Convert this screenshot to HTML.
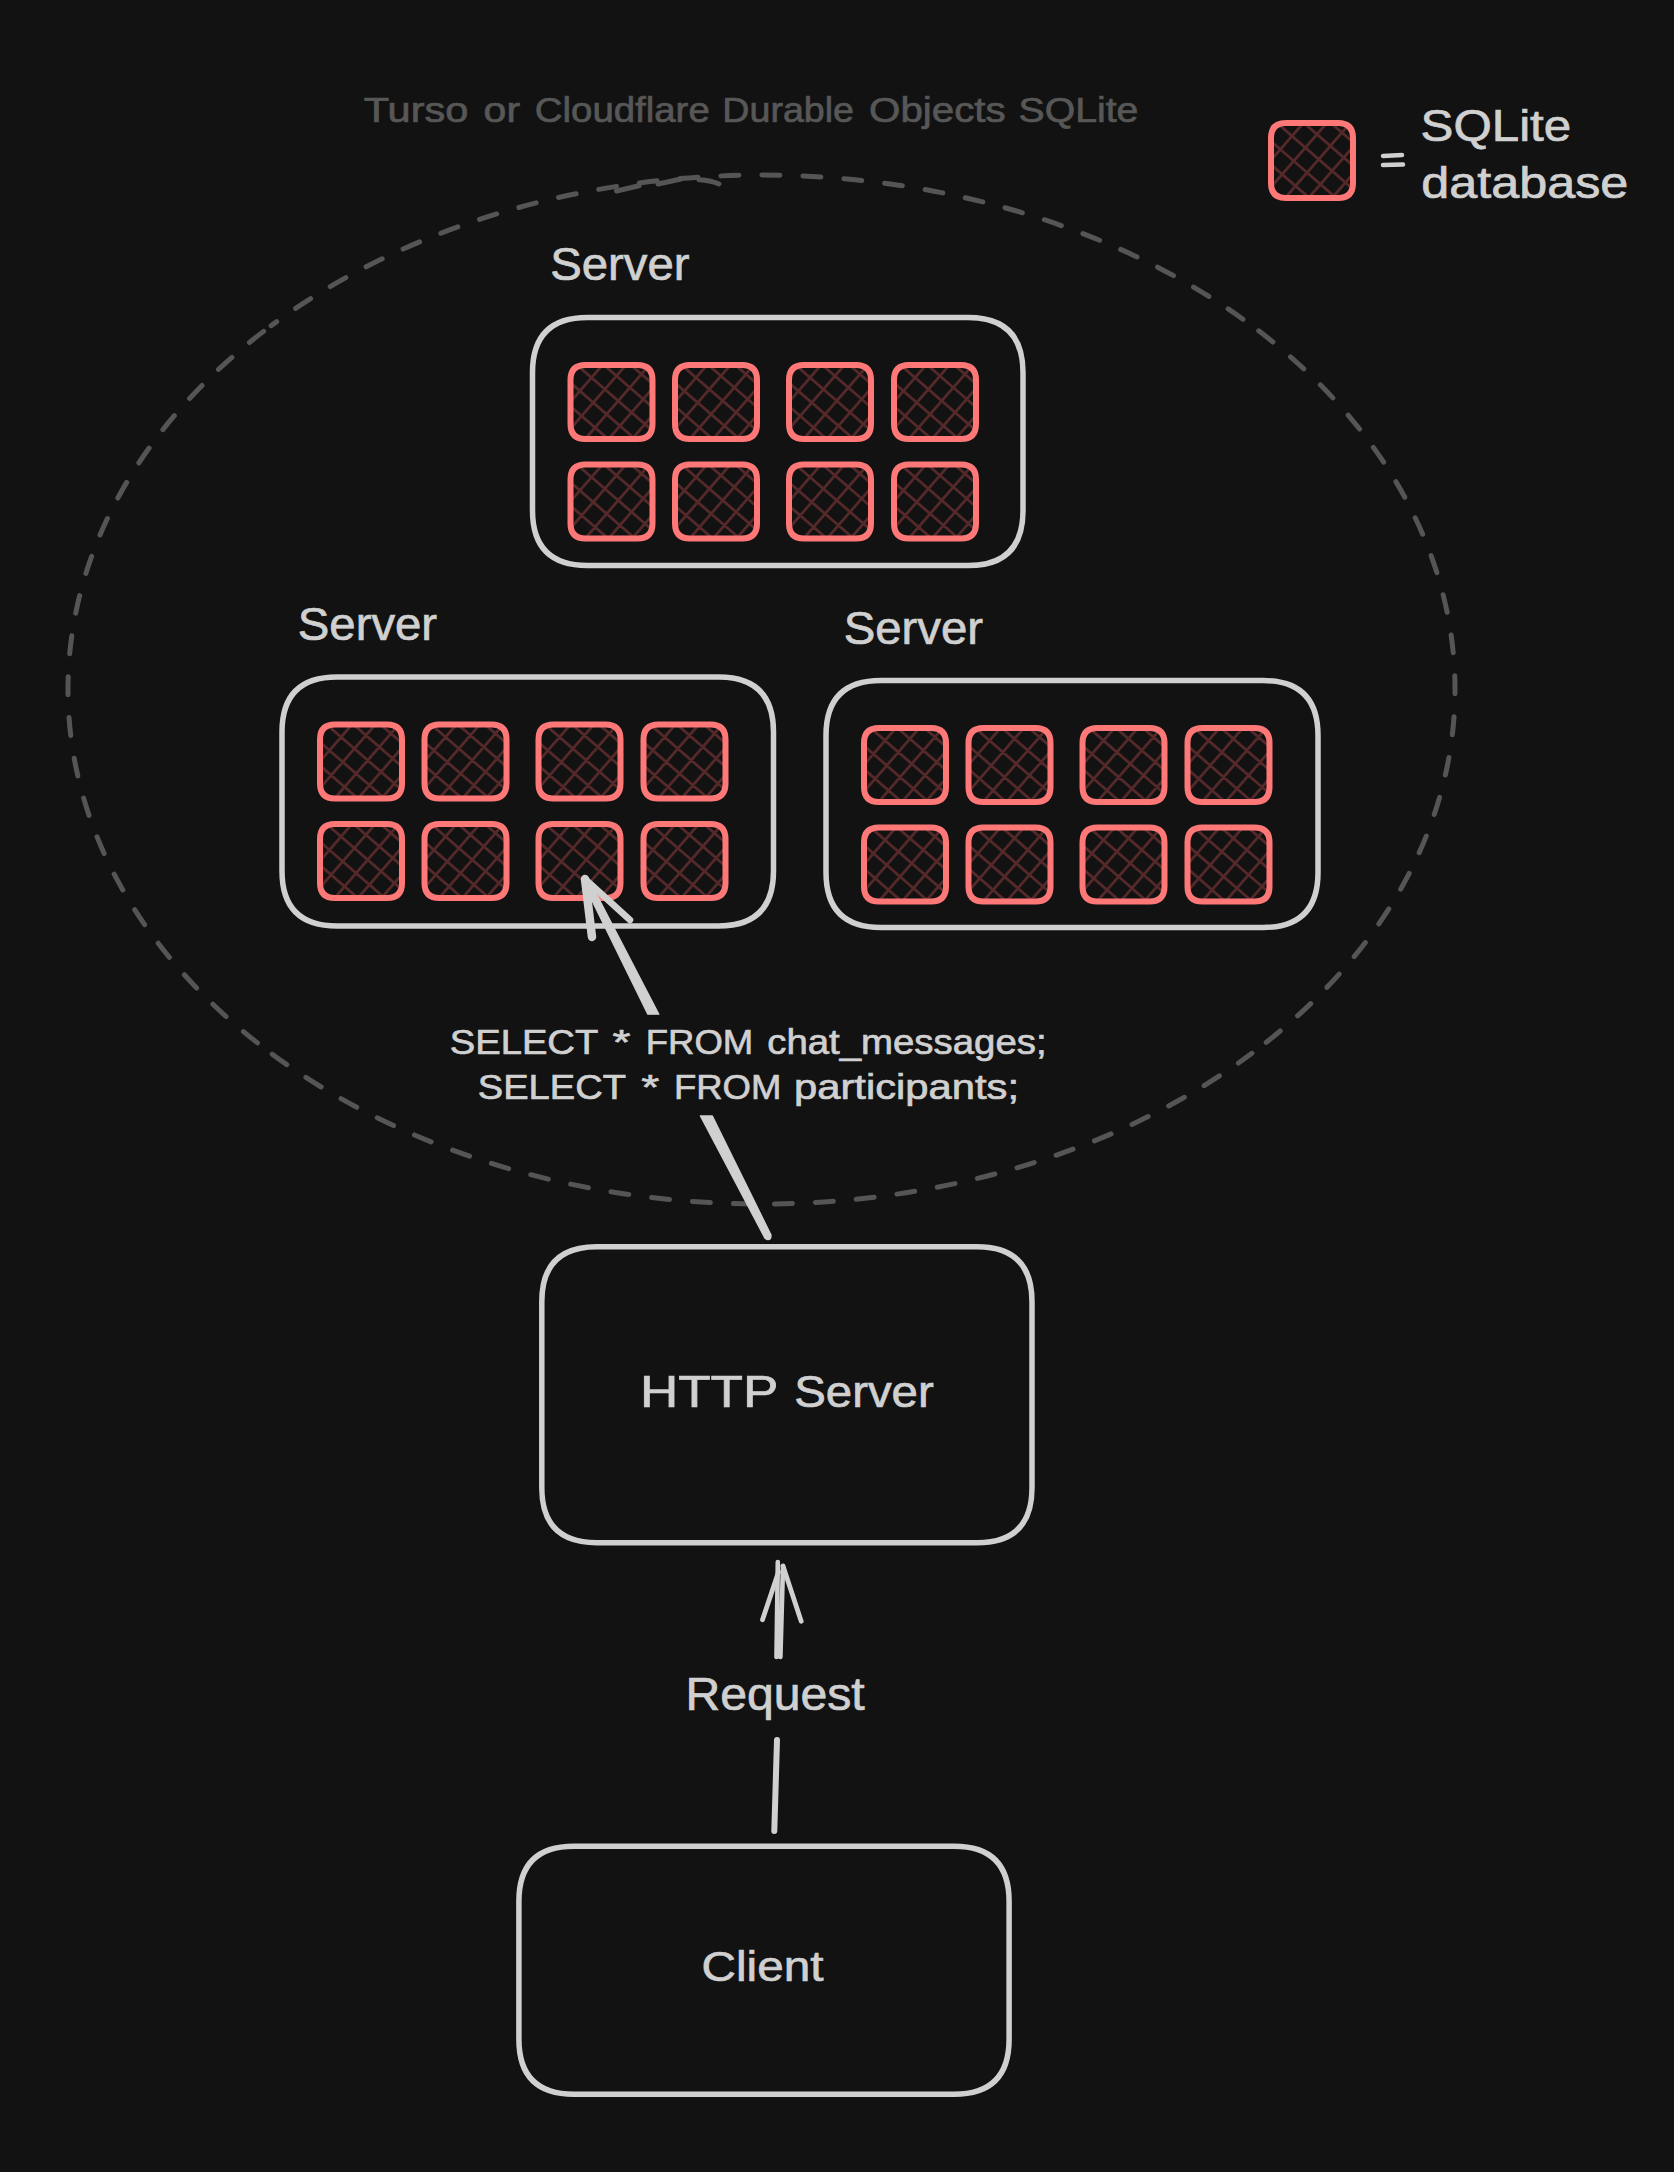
<!DOCTYPE html>
<html><head><meta charset="utf-8"><style>
html,body{margin:0;padding:0;background:#121212;overflow:hidden;}
svg{display:block;}
text{font-family:"Liberation Sans",sans-serif;}
</style></head><body>
<svg width="1674" height="2172" viewBox="0 0 1674 2172">
<defs><clipPath id="c0"><path d="M1286.0,123.0 L1338.0,123.0 Q1353.0,123.0 1353.0,138.0 L1353.0,183.0 Q1353.0,198.0 1338.0,198.0 L1286.0,198.0 Q1271.0,198.0 1271.0,183.0 L1271.0,138.0 Q1271.0,123.0 1286.0,123.0 Z"/></clipPath><clipPath id="c1"><path d="M585.5,365.1 L637.5,365.1 Q652.5,365.1 652.5,380.1 L652.5,424.1 Q652.5,439.1 637.5,439.1 L585.5,439.1 Q570.5,439.1 570.5,424.1 L570.5,380.1 Q570.5,365.1 585.5,365.1 Z"/></clipPath><clipPath id="c2"><path d="M690.0,365.1 L742.0,365.1 Q757.0,365.1 757.0,380.1 L757.0,424.1 Q757.0,439.1 742.0,439.1 L690.0,439.1 Q675.0,439.1 675.0,424.1 L675.0,380.1 Q675.0,365.1 690.0,365.1 Z"/></clipPath><clipPath id="c3"><path d="M804.0,365.1 L856.0,365.1 Q871.0,365.1 871.0,380.1 L871.0,424.1 Q871.0,439.1 856.0,439.1 L804.0,439.1 Q789.0,439.1 789.0,424.1 L789.0,380.1 Q789.0,365.1 804.0,365.1 Z"/></clipPath><clipPath id="c4"><path d="M909.0,365.1 L961.0,365.1 Q976.0,365.1 976.0,380.1 L976.0,424.1 Q976.0,439.1 961.0,439.1 L909.0,439.1 Q894.0,439.1 894.0,424.1 L894.0,380.1 Q894.0,365.1 909.0,365.1 Z"/></clipPath><clipPath id="c5"><path d="M585.5,464.6 L637.5,464.6 Q652.5,464.6 652.5,479.6 L652.5,523.6 Q652.5,538.6 637.5,538.6 L585.5,538.6 Q570.5,538.6 570.5,523.6 L570.5,479.6 Q570.5,464.6 585.5,464.6 Z"/></clipPath><clipPath id="c6"><path d="M690.0,464.6 L742.0,464.6 Q757.0,464.6 757.0,479.6 L757.0,523.6 Q757.0,538.6 742.0,538.6 L690.0,538.6 Q675.0,538.6 675.0,523.6 L675.0,479.6 Q675.0,464.6 690.0,464.6 Z"/></clipPath><clipPath id="c7"><path d="M804.0,464.6 L856.0,464.6 Q871.0,464.6 871.0,479.6 L871.0,523.6 Q871.0,538.6 856.0,538.6 L804.0,538.6 Q789.0,538.6 789.0,523.6 L789.0,479.6 Q789.0,464.6 804.0,464.6 Z"/></clipPath><clipPath id="c8"><path d="M909.0,464.6 L961.0,464.6 Q976.0,464.6 976.0,479.6 L976.0,523.6 Q976.0,538.6 961.0,538.6 L909.0,538.6 Q894.0,538.6 894.0,523.6 L894.0,479.6 Q894.0,464.6 909.0,464.6 Z"/></clipPath><clipPath id="c9"><path d="M335.0,724.5 L387.0,724.5 Q402.0,724.5 402.0,739.5 L402.0,783.5 Q402.0,798.5 387.0,798.5 L335.0,798.5 Q320.0,798.5 320.0,783.5 L320.0,739.5 Q320.0,724.5 335.0,724.5 Z"/></clipPath><clipPath id="c10"><path d="M439.5,724.5 L491.5,724.5 Q506.5,724.5 506.5,739.5 L506.5,783.5 Q506.5,798.5 491.5,798.5 L439.5,798.5 Q424.5,798.5 424.5,783.5 L424.5,739.5 Q424.5,724.5 439.5,724.5 Z"/></clipPath><clipPath id="c11"><path d="M553.5,724.5 L605.5,724.5 Q620.5,724.5 620.5,739.5 L620.5,783.5 Q620.5,798.5 605.5,798.5 L553.5,798.5 Q538.5,798.5 538.5,783.5 L538.5,739.5 Q538.5,724.5 553.5,724.5 Z"/></clipPath><clipPath id="c12"><path d="M658.5,724.5 L710.5,724.5 Q725.5,724.5 725.5,739.5 L725.5,783.5 Q725.5,798.5 710.5,798.5 L658.5,798.5 Q643.5,798.5 643.5,783.5 L643.5,739.5 Q643.5,724.5 658.5,724.5 Z"/></clipPath><clipPath id="c13"><path d="M335.0,824.0 L387.0,824.0 Q402.0,824.0 402.0,839.0 L402.0,883.0 Q402.0,898.0 387.0,898.0 L335.0,898.0 Q320.0,898.0 320.0,883.0 L320.0,839.0 Q320.0,824.0 335.0,824.0 Z"/></clipPath><clipPath id="c14"><path d="M439.5,824.0 L491.5,824.0 Q506.5,824.0 506.5,839.0 L506.5,883.0 Q506.5,898.0 491.5,898.0 L439.5,898.0 Q424.5,898.0 424.5,883.0 L424.5,839.0 Q424.5,824.0 439.5,824.0 Z"/></clipPath><clipPath id="c15"><path d="M553.5,824.0 L605.5,824.0 Q620.5,824.0 620.5,839.0 L620.5,883.0 Q620.5,898.0 605.5,898.0 L553.5,898.0 Q538.5,898.0 538.5,883.0 L538.5,839.0 Q538.5,824.0 553.5,824.0 Z"/></clipPath><clipPath id="c16"><path d="M658.5,824.0 L710.5,824.0 Q725.5,824.0 725.5,839.0 L725.5,883.0 Q725.5,898.0 710.5,898.0 L658.5,898.0 Q643.5,898.0 643.5,883.0 L643.5,839.0 Q643.5,824.0 658.5,824.0 Z"/></clipPath><clipPath id="c17"><path d="M879.0,728.0 L931.0,728.0 Q946.0,728.0 946.0,743.0 L946.0,787.0 Q946.0,802.0 931.0,802.0 L879.0,802.0 Q864.0,802.0 864.0,787.0 L864.0,743.0 Q864.0,728.0 879.0,728.0 Z"/></clipPath><clipPath id="c18"><path d="M983.5,728.0 L1035.5,728.0 Q1050.5,728.0 1050.5,743.0 L1050.5,787.0 Q1050.5,802.0 1035.5,802.0 L983.5,802.0 Q968.5,802.0 968.5,787.0 L968.5,743.0 Q968.5,728.0 983.5,728.0 Z"/></clipPath><clipPath id="c19"><path d="M1097.5,728.0 L1149.5,728.0 Q1164.5,728.0 1164.5,743.0 L1164.5,787.0 Q1164.5,802.0 1149.5,802.0 L1097.5,802.0 Q1082.5,802.0 1082.5,787.0 L1082.5,743.0 Q1082.5,728.0 1097.5,728.0 Z"/></clipPath><clipPath id="c20"><path d="M1202.5,728.0 L1254.5,728.0 Q1269.5,728.0 1269.5,743.0 L1269.5,787.0 Q1269.5,802.0 1254.5,802.0 L1202.5,802.0 Q1187.5,802.0 1187.5,787.0 L1187.5,743.0 Q1187.5,728.0 1202.5,728.0 Z"/></clipPath><clipPath id="c21"><path d="M879.0,827.5 L931.0,827.5 Q946.0,827.5 946.0,842.5 L946.0,886.5 Q946.0,901.5 931.0,901.5 L879.0,901.5 Q864.0,901.5 864.0,886.5 L864.0,842.5 Q864.0,827.5 879.0,827.5 Z"/></clipPath><clipPath id="c22"><path d="M983.5,827.5 L1035.5,827.5 Q1050.5,827.5 1050.5,842.5 L1050.5,886.5 Q1050.5,901.5 1035.5,901.5 L983.5,901.5 Q968.5,901.5 968.5,886.5 L968.5,842.5 Q968.5,827.5 983.5,827.5 Z"/></clipPath><clipPath id="c23"><path d="M1097.5,827.5 L1149.5,827.5 Q1164.5,827.5 1164.5,842.5 L1164.5,886.5 Q1164.5,901.5 1149.5,901.5 L1097.5,901.5 Q1082.5,901.5 1082.5,886.5 L1082.5,842.5 Q1082.5,827.5 1097.5,827.5 Z"/></clipPath><clipPath id="c24"><path d="M1202.5,827.5 L1254.5,827.5 Q1269.5,827.5 1269.5,842.5 L1269.5,886.5 Q1269.5,901.5 1254.5,901.5 L1202.5,901.5 Q1187.5,901.5 1187.5,886.5 L1187.5,842.5 Q1187.5,827.5 1202.5,827.5 Z"/></clipPath></defs>
<rect width="1674" height="2172" fill="#121212"/>
<path d="M1251.88,325.69 A693.5,514.5 0 0 1 1251.88,1053.31" fill="none" stroke="#555555" stroke-width="5" stroke-dasharray="18 23" stroke-dashoffset="32.40" stroke-linecap="round"/>
<path d="M1251.88,1053.31 A693.5,514.5 0 0 1 271.12,1053.31" fill="none" stroke="#555555" stroke-width="5" stroke-dasharray="18 23" stroke-dashoffset="1.33" stroke-linecap="round"/>
<path d="M271.12,1053.31 A693.5,514.5 0 0 1 271.12,325.69" fill="none" stroke="#555555" stroke-width="5" stroke-dasharray="18 23" stroke-dashoffset="23.80" stroke-linecap="round"/>
<path d="M271.12,325.69 A693.5,514.5 0 0 1 1251.88,325.69" fill="none" stroke="#555555" stroke-width="5" stroke-dasharray="18 23" stroke-dashoffset="11.03" stroke-linecap="round"/>
<path d="M616.5,191 L639,185.7 M658,184 L681,179 M699,179.7 Q712,180.5 719,184" stroke="#555555" stroke-width="5" stroke-linecap="round" fill="none"/>
<text x="363.73" y="122" font-size="35" fill="#575757" stroke="#575757" stroke-width="0.7" textLength="104.64" lengthAdjust="spacingAndGlyphs">Turso</text>
<text x="483.63" y="122" font-size="35" fill="#575757" stroke="#575757" stroke-width="0.7" textLength="36.40" lengthAdjust="spacingAndGlyphs">or</text>
<text x="534.80" y="122" font-size="35" fill="#575757" stroke="#575757" stroke-width="0.7" textLength="174.95" lengthAdjust="spacingAndGlyphs">Cloudflare</text>
<text x="722.37" y="122" font-size="35" fill="#575757" stroke="#575757" stroke-width="0.7" textLength="131.65" lengthAdjust="spacingAndGlyphs">Durable</text>
<text x="869.14" y="122" font-size="35" fill="#575757" stroke="#575757" stroke-width="0.7" textLength="136.46" lengthAdjust="spacingAndGlyphs">Objects</text>
<text x="1018.57" y="122" font-size="35" fill="#575757" stroke="#575757" stroke-width="0.7" textLength="119.82" lengthAdjust="spacingAndGlyphs">SQLite</text>
<path clip-path="url(#c0)" d="M1299.4,72.1L1398.4,158.2M1287.8,85.5L1386.8,171.5M1276.2,98.8L1375.1,184.9M1264.6,112.2L1363.5,198.2M1253.0,125.6L1351.9,211.6M1241.3,138.9L1340.3,224.9M1229.7,152.3L1328.7,238.3M1218.1,165.6L1317.1,251.7M1206.5,179.0L1305.5,265.0M1214.7,171.0L1300.8,72.0M1228.1,182.6L1314.1,83.6M1241.4,194.2L1327.5,95.3M1254.8,205.8L1340.8,106.9M1268.2,217.4L1354.2,118.5M1281.5,229.1L1367.5,130.1M1294.9,240.7L1380.9,141.7M1308.2,252.3L1394.3,153.3M1321.6,263.9L1407.6,164.9" stroke="#55292a" stroke-width="2.8" fill="none"/>
<path d="M1286.0,123.0 L1338.0,123.0 Q1353.0,123.0 1353.0,138.0 L1353.0,183.0 Q1353.0,198.0 1338.0,198.0 L1286.0,198.0 Q1271.0,198.0 1271.0,183.0 L1271.0,138.0 Q1271.0,123.0 1286.0,123.0 Z" stroke="#ff7878" stroke-width="6" fill="none" stroke-linejoin="round"/>
<path d="M1383,156 L1402,155 M1383,165 L1403,164.5" stroke="#d0d0d0" stroke-width="4.5" stroke-linecap="round"/>
<text x="1420.51" y="140.5" font-size="44" fill="#d0d0d0" stroke="#d0d0d0" stroke-width="0.7" textLength="150.73" lengthAdjust="spacingAndGlyphs">SQLite</text>
<text x="1421.24" y="198" font-size="44" fill="#d0d0d0" stroke="#d0d0d0" stroke-width="0.7" textLength="207.05" lengthAdjust="spacingAndGlyphs">database</text>
<text x="550.20" y="279.5" font-size="46" fill="#d0d0d0" stroke="#d0d0d0" stroke-width="0.7" textLength="139.33" lengthAdjust="spacingAndGlyphs">Server</text>
<text x="297.80" y="639.5" font-size="46" fill="#d0d0d0" stroke="#d0d0d0" stroke-width="0.7" textLength="139.33" lengthAdjust="spacingAndGlyphs">Server</text>
<text x="843.70" y="643.5" font-size="46" fill="#d0d0d0" stroke="#d0d0d0" stroke-width="0.7" textLength="139.44" lengthAdjust="spacingAndGlyphs">Server</text>
<path d="M587.5,317.6 L968.0,317.6 Q1023.0,317.6 1023.0,372.6 L1023.0,510.6 Q1023.0,565.6 968.0,565.6 L587.5,565.6 Q532.5,565.6 532.5,510.6 L532.5,372.6 Q532.5,317.6 587.5,317.6 Z" stroke="#d0d0d0" stroke-width="5.5" fill="none"/>
<path clip-path="url(#c1)" d="M599.2,313.9L697.6,399.5M587.5,327.3L686.0,412.9M575.9,340.7L674.4,426.3M564.3,354.0L662.8,439.6M552.7,367.4L651.2,453.0M541.1,380.7L639.6,466.3M529.5,394.1L627.9,479.7M517.9,407.5L616.3,493.0M506.3,420.8L604.7,506.4M514.4,412.3L600.0,313.9M527.8,424.0L613.4,325.5M541.2,435.6L626.8,337.1M554.5,447.2L640.1,348.7M567.9,458.8L653.5,360.3M581.2,470.4L666.8,371.9M594.6,482.0L680.2,383.6M608.0,493.6L693.5,395.2M621.3,505.2L706.9,406.8" stroke="#55292a" stroke-width="2.8" fill="none"/>
<path d="M585.5,365.1 L637.5,365.1 Q652.5,365.1 652.5,380.1 L652.5,424.1 Q652.5,439.1 637.5,439.1 L585.5,439.1 Q570.5,439.1 570.5,424.1 L570.5,380.1 Q570.5,365.1 585.5,365.1 Z" stroke="#ff7878" stroke-width="6" fill="none" stroke-linejoin="round"/>
<path clip-path="url(#c2)" d="M703.7,313.9L802.1,399.5M692.0,327.3L790.5,412.9M680.4,340.7L778.9,426.3M668.8,354.0L767.3,439.6M657.2,367.4L755.7,453.0M645.6,380.7L744.1,466.3M634.0,394.1L732.4,479.7M622.4,407.5L720.8,493.0M610.8,420.8L709.2,506.4M618.9,412.3L704.5,313.9M632.3,424.0L717.9,325.5M645.7,435.6L731.3,337.1M659.0,447.2L744.6,348.7M672.4,458.8L758.0,360.3M685.7,470.4L771.3,371.9M699.1,482.0L784.7,383.6M712.5,493.6L798.0,395.2M725.8,505.2L811.4,406.8" stroke="#55292a" stroke-width="2.8" fill="none"/>
<path d="M690.0,365.1 L742.0,365.1 Q757.0,365.1 757.0,380.1 L757.0,424.1 Q757.0,439.1 742.0,439.1 L690.0,439.1 Q675.0,439.1 675.0,424.1 L675.0,380.1 Q675.0,365.1 690.0,365.1 Z" stroke="#ff7878" stroke-width="6" fill="none" stroke-linejoin="round"/>
<path clip-path="url(#c3)" d="M817.7,313.9L916.1,399.5M806.0,327.3L904.5,412.9M794.4,340.7L892.9,426.3M782.8,354.0L881.3,439.6M771.2,367.4L869.7,453.0M759.6,380.7L858.1,466.3M748.0,394.1L846.4,479.7M736.4,407.5L834.8,493.0M724.8,420.8L823.2,506.4M732.9,412.3L818.5,313.9M746.3,424.0L831.9,325.5M759.7,435.6L845.3,337.1M773.0,447.2L858.6,348.7M786.4,458.8L872.0,360.3M799.7,470.4L885.3,371.9M813.1,482.0L898.7,383.6M826.5,493.6L912.0,395.2M839.8,505.2L925.4,406.8" stroke="#55292a" stroke-width="2.8" fill="none"/>
<path d="M804.0,365.1 L856.0,365.1 Q871.0,365.1 871.0,380.1 L871.0,424.1 Q871.0,439.1 856.0,439.1 L804.0,439.1 Q789.0,439.1 789.0,424.1 L789.0,380.1 Q789.0,365.1 804.0,365.1 Z" stroke="#ff7878" stroke-width="6" fill="none" stroke-linejoin="round"/>
<path clip-path="url(#c4)" d="M922.7,313.9L1021.1,399.5M911.0,327.3L1009.5,412.9M899.4,340.7L997.9,426.3M887.8,354.0L986.3,439.6M876.2,367.4L974.7,453.0M864.6,380.7L963.1,466.3M853.0,394.1L951.4,479.7M841.4,407.5L939.8,493.0M829.8,420.8L928.2,506.4M837.9,412.3L923.5,313.9M851.3,424.0L936.9,325.5M864.7,435.6L950.3,337.1M878.0,447.2L963.6,348.7M891.4,458.8L977.0,360.3M904.7,470.4L990.3,371.9M918.1,482.0L1003.7,383.6M931.5,493.6L1017.0,395.2M944.8,505.2L1030.4,406.8" stroke="#55292a" stroke-width="2.8" fill="none"/>
<path d="M909.0,365.1 L961.0,365.1 Q976.0,365.1 976.0,380.1 L976.0,424.1 Q976.0,439.1 961.0,439.1 L909.0,439.1 Q894.0,439.1 894.0,424.1 L894.0,380.1 Q894.0,365.1 909.0,365.1 Z" stroke="#ff7878" stroke-width="6" fill="none" stroke-linejoin="round"/>
<path clip-path="url(#c5)" d="M599.2,413.4L697.6,499.0M587.5,426.8L686.0,512.4M575.9,440.2L674.4,525.8M564.3,453.5L662.8,539.1M552.7,466.9L651.2,552.5M541.1,480.2L639.6,565.8M529.5,493.6L627.9,579.2M517.9,507.0L616.3,592.5M506.3,520.3L604.7,605.9M514.4,511.8L600.0,413.4M527.8,523.5L613.4,425.0M541.2,535.1L626.8,436.6M554.5,546.7L640.1,448.2M567.9,558.3L653.5,459.8M581.2,569.9L666.8,471.4M594.6,581.5L680.2,483.1M608.0,593.1L693.5,494.7M621.3,604.7L706.9,506.3" stroke="#55292a" stroke-width="2.8" fill="none"/>
<path d="M585.5,464.6 L637.5,464.6 Q652.5,464.6 652.5,479.6 L652.5,523.6 Q652.5,538.6 637.5,538.6 L585.5,538.6 Q570.5,538.6 570.5,523.6 L570.5,479.6 Q570.5,464.6 585.5,464.6 Z" stroke="#ff7878" stroke-width="6" fill="none" stroke-linejoin="round"/>
<path clip-path="url(#c6)" d="M703.7,413.4L802.1,499.0M692.0,426.8L790.5,512.4M680.4,440.2L778.9,525.8M668.8,453.5L767.3,539.1M657.2,466.9L755.7,552.5M645.6,480.2L744.1,565.8M634.0,493.6L732.4,579.2M622.4,507.0L720.8,592.5M610.8,520.3L709.2,605.9M618.9,511.8L704.5,413.4M632.3,523.5L717.9,425.0M645.7,535.1L731.3,436.6M659.0,546.7L744.6,448.2M672.4,558.3L758.0,459.8M685.7,569.9L771.3,471.4M699.1,581.5L784.7,483.1M712.5,593.1L798.0,494.7M725.8,604.7L811.4,506.3" stroke="#55292a" stroke-width="2.8" fill="none"/>
<path d="M690.0,464.6 L742.0,464.6 Q757.0,464.6 757.0,479.6 L757.0,523.6 Q757.0,538.6 742.0,538.6 L690.0,538.6 Q675.0,538.6 675.0,523.6 L675.0,479.6 Q675.0,464.6 690.0,464.6 Z" stroke="#ff7878" stroke-width="6" fill="none" stroke-linejoin="round"/>
<path clip-path="url(#c7)" d="M817.7,413.4L916.1,499.0M806.0,426.8L904.5,512.4M794.4,440.2L892.9,525.8M782.8,453.5L881.3,539.1M771.2,466.9L869.7,552.5M759.6,480.2L858.1,565.8M748.0,493.6L846.4,579.2M736.4,507.0L834.8,592.5M724.8,520.3L823.2,605.9M732.9,511.8L818.5,413.4M746.3,523.5L831.9,425.0M759.7,535.1L845.3,436.6M773.0,546.7L858.6,448.2M786.4,558.3L872.0,459.8M799.7,569.9L885.3,471.4M813.1,581.5L898.7,483.1M826.5,593.1L912.0,494.7M839.8,604.7L925.4,506.3" stroke="#55292a" stroke-width="2.8" fill="none"/>
<path d="M804.0,464.6 L856.0,464.6 Q871.0,464.6 871.0,479.6 L871.0,523.6 Q871.0,538.6 856.0,538.6 L804.0,538.6 Q789.0,538.6 789.0,523.6 L789.0,479.6 Q789.0,464.6 804.0,464.6 Z" stroke="#ff7878" stroke-width="6" fill="none" stroke-linejoin="round"/>
<path clip-path="url(#c8)" d="M922.7,413.4L1021.1,499.0M911.0,426.8L1009.5,512.4M899.4,440.2L997.9,525.8M887.8,453.5L986.3,539.1M876.2,466.9L974.7,552.5M864.6,480.2L963.1,565.8M853.0,493.6L951.4,579.2M841.4,507.0L939.8,592.5M829.8,520.3L928.2,605.9M837.9,511.8L923.5,413.4M851.3,523.5L936.9,425.0M864.7,535.1L950.3,436.6M878.0,546.7L963.6,448.2M891.4,558.3L977.0,459.8M904.7,569.9L990.3,471.4M918.1,581.5L1003.7,483.1M931.5,593.1L1017.0,494.7M944.8,604.7L1030.4,506.3" stroke="#55292a" stroke-width="2.8" fill="none"/>
<path d="M909.0,464.6 L961.0,464.6 Q976.0,464.6 976.0,479.6 L976.0,523.6 Q976.0,538.6 961.0,538.6 L909.0,538.6 Q894.0,538.6 894.0,523.6 L894.0,479.6 Q894.0,464.6 909.0,464.6 Z" stroke="#ff7878" stroke-width="6" fill="none" stroke-linejoin="round"/>
<path d="M337.0,677.0 L718.5,677.0 Q773.5,677.0 773.5,732.0 L773.5,871.0 Q773.5,926.0 718.5,926.0 L337.0,926.0 Q282.0,926.0 282.0,871.0 L282.0,732.0 Q282.0,677.0 337.0,677.0 Z" stroke="#d0d0d0" stroke-width="5.5" fill="none"/>
<path clip-path="url(#c9)" d="M348.7,673.3L447.1,758.9M337.0,686.7L435.5,772.3M325.4,700.1L423.9,785.7M313.8,713.4L412.3,799.0M302.2,726.8L400.7,812.4M290.6,740.1L389.1,825.7M279.0,753.5L377.4,839.1M267.4,766.9L365.8,852.4M255.8,780.2L354.2,865.8M263.9,771.7L349.5,673.3M277.3,783.4L362.9,684.9M290.7,795.0L376.3,696.5M304.0,806.6L389.6,708.1M317.4,818.2L403.0,719.7M330.7,829.8L416.3,731.3M344.1,841.4L429.7,743.0M357.5,853.0L443.0,754.6M370.8,864.6L456.4,766.2" stroke="#55292a" stroke-width="2.8" fill="none"/>
<path d="M335.0,724.5 L387.0,724.5 Q402.0,724.5 402.0,739.5 L402.0,783.5 Q402.0,798.5 387.0,798.5 L335.0,798.5 Q320.0,798.5 320.0,783.5 L320.0,739.5 Q320.0,724.5 335.0,724.5 Z" stroke="#ff7878" stroke-width="6" fill="none" stroke-linejoin="round"/>
<path clip-path="url(#c10)" d="M453.2,673.3L551.6,758.9M441.5,686.7L540.0,772.3M429.9,700.1L528.4,785.7M418.3,713.4L516.8,799.0M406.7,726.8L505.2,812.4M395.1,740.1L493.6,825.7M383.5,753.5L481.9,839.1M371.9,766.9L470.3,852.4M360.3,780.2L458.7,865.8M368.4,771.7L454.0,673.3M381.8,783.4L467.4,684.9M395.2,795.0L480.8,696.5M408.5,806.6L494.1,708.1M421.9,818.2L507.5,719.7M435.2,829.8L520.8,731.3M448.6,841.4L534.2,743.0M462.0,853.0L547.5,754.6M475.3,864.6L560.9,766.2" stroke="#55292a" stroke-width="2.8" fill="none"/>
<path d="M439.5,724.5 L491.5,724.5 Q506.5,724.5 506.5,739.5 L506.5,783.5 Q506.5,798.5 491.5,798.5 L439.5,798.5 Q424.5,798.5 424.5,783.5 L424.5,739.5 Q424.5,724.5 439.5,724.5 Z" stroke="#ff7878" stroke-width="6" fill="none" stroke-linejoin="round"/>
<path clip-path="url(#c11)" d="M567.2,673.3L665.6,758.9M555.5,686.7L654.0,772.3M543.9,700.1L642.4,785.7M532.3,713.4L630.8,799.0M520.7,726.8L619.2,812.4M509.1,740.1L607.6,825.7M497.5,753.5L595.9,839.1M485.9,766.9L584.3,852.4M474.3,780.2L572.7,865.8M482.4,771.7L568.0,673.3M495.8,783.4L581.4,684.9M509.2,795.0L594.8,696.5M522.5,806.6L608.1,708.1M535.9,818.2L621.5,719.7M549.2,829.8L634.8,731.3M562.6,841.4L648.2,743.0M576.0,853.0L661.5,754.6M589.3,864.6L674.9,766.2" stroke="#55292a" stroke-width="2.8" fill="none"/>
<path d="M553.5,724.5 L605.5,724.5 Q620.5,724.5 620.5,739.5 L620.5,783.5 Q620.5,798.5 605.5,798.5 L553.5,798.5 Q538.5,798.5 538.5,783.5 L538.5,739.5 Q538.5,724.5 553.5,724.5 Z" stroke="#ff7878" stroke-width="6" fill="none" stroke-linejoin="round"/>
<path clip-path="url(#c12)" d="M672.2,673.3L770.6,758.9M660.5,686.7L759.0,772.3M648.9,700.1L747.4,785.7M637.3,713.4L735.8,799.0M625.7,726.8L724.2,812.4M614.1,740.1L712.6,825.7M602.5,753.5L700.9,839.1M590.9,766.9L689.3,852.4M579.3,780.2L677.7,865.8M587.4,771.7L673.0,673.3M600.8,783.4L686.4,684.9M614.2,795.0L699.8,696.5M627.5,806.6L713.1,708.1M640.9,818.2L726.5,719.7M654.2,829.8L739.8,731.3M667.6,841.4L753.2,743.0M681.0,853.0L766.5,754.6M694.3,864.6L779.9,766.2" stroke="#55292a" stroke-width="2.8" fill="none"/>
<path d="M658.5,724.5 L710.5,724.5 Q725.5,724.5 725.5,739.5 L725.5,783.5 Q725.5,798.5 710.5,798.5 L658.5,798.5 Q643.5,798.5 643.5,783.5 L643.5,739.5 Q643.5,724.5 658.5,724.5 Z" stroke="#ff7878" stroke-width="6" fill="none" stroke-linejoin="round"/>
<path clip-path="url(#c13)" d="M348.7,772.8L447.1,858.4M337.0,786.2L435.5,871.8M325.4,799.6L423.9,885.2M313.8,812.9L412.3,898.5M302.2,826.3L400.7,911.9M290.6,839.6L389.1,925.2M279.0,853.0L377.4,938.6M267.4,866.4L365.8,951.9M255.8,879.7L354.2,965.3M263.9,871.2L349.5,772.8M277.3,882.9L362.9,784.4M290.7,894.5L376.3,796.0M304.0,906.1L389.6,807.6M317.4,917.7L403.0,819.2M330.7,929.3L416.3,830.8M344.1,940.9L429.7,842.5M357.5,952.5L443.0,854.1M370.8,964.1L456.4,865.7" stroke="#55292a" stroke-width="2.8" fill="none"/>
<path d="M335.0,824.0 L387.0,824.0 Q402.0,824.0 402.0,839.0 L402.0,883.0 Q402.0,898.0 387.0,898.0 L335.0,898.0 Q320.0,898.0 320.0,883.0 L320.0,839.0 Q320.0,824.0 335.0,824.0 Z" stroke="#ff7878" stroke-width="6" fill="none" stroke-linejoin="round"/>
<path clip-path="url(#c14)" d="M453.2,772.8L551.6,858.4M441.5,786.2L540.0,871.8M429.9,799.6L528.4,885.2M418.3,812.9L516.8,898.5M406.7,826.3L505.2,911.9M395.1,839.6L493.6,925.2M383.5,853.0L481.9,938.6M371.9,866.4L470.3,951.9M360.3,879.7L458.7,965.3M368.4,871.2L454.0,772.8M381.8,882.9L467.4,784.4M395.2,894.5L480.8,796.0M408.5,906.1L494.1,807.6M421.9,917.7L507.5,819.2M435.2,929.3L520.8,830.8M448.6,940.9L534.2,842.5M462.0,952.5L547.5,854.1M475.3,964.1L560.9,865.7" stroke="#55292a" stroke-width="2.8" fill="none"/>
<path d="M439.5,824.0 L491.5,824.0 Q506.5,824.0 506.5,839.0 L506.5,883.0 Q506.5,898.0 491.5,898.0 L439.5,898.0 Q424.5,898.0 424.5,883.0 L424.5,839.0 Q424.5,824.0 439.5,824.0 Z" stroke="#ff7878" stroke-width="6" fill="none" stroke-linejoin="round"/>
<path clip-path="url(#c15)" d="M567.2,772.8L665.6,858.4M555.5,786.2L654.0,871.8M543.9,799.6L642.4,885.2M532.3,812.9L630.8,898.5M520.7,826.3L619.2,911.9M509.1,839.6L607.6,925.2M497.5,853.0L595.9,938.6M485.9,866.4L584.3,951.9M474.3,879.7L572.7,965.3M482.4,871.2L568.0,772.8M495.8,882.9L581.4,784.4M509.2,894.5L594.8,796.0M522.5,906.1L608.1,807.6M535.9,917.7L621.5,819.2M549.2,929.3L634.8,830.8M562.6,940.9L648.2,842.5M576.0,952.5L661.5,854.1M589.3,964.1L674.9,865.7" stroke="#55292a" stroke-width="2.8" fill="none"/>
<path d="M553.5,824.0 L605.5,824.0 Q620.5,824.0 620.5,839.0 L620.5,883.0 Q620.5,898.0 605.5,898.0 L553.5,898.0 Q538.5,898.0 538.5,883.0 L538.5,839.0 Q538.5,824.0 553.5,824.0 Z" stroke="#ff7878" stroke-width="6" fill="none" stroke-linejoin="round"/>
<path clip-path="url(#c16)" d="M672.2,772.8L770.6,858.4M660.5,786.2L759.0,871.8M648.9,799.6L747.4,885.2M637.3,812.9L735.8,898.5M625.7,826.3L724.2,911.9M614.1,839.6L712.6,925.2M602.5,853.0L700.9,938.6M590.9,866.4L689.3,951.9M579.3,879.7L677.7,965.3M587.4,871.2L673.0,772.8M600.8,882.9L686.4,784.4M614.2,894.5L699.8,796.0M627.5,906.1L713.1,807.6M640.9,917.7L726.5,819.2M654.2,929.3L739.8,830.8M667.6,940.9L753.2,842.5M681.0,952.5L766.5,854.1M694.3,964.1L779.9,865.7" stroke="#55292a" stroke-width="2.8" fill="none"/>
<path d="M658.5,824.0 L710.5,824.0 Q725.5,824.0 725.5,839.0 L725.5,883.0 Q725.5,898.0 710.5,898.0 L658.5,898.0 Q643.5,898.0 643.5,883.0 L643.5,839.0 Q643.5,824.0 658.5,824.0 Z" stroke="#ff7878" stroke-width="6" fill="none" stroke-linejoin="round"/>
<path d="M881.0,680.5 L1263.0,680.5 Q1318.0,680.5 1318.0,735.5 L1318.0,872.5 Q1318.0,927.5 1263.0,927.5 L881.0,927.5 Q826.0,927.5 826.0,872.5 L826.0,735.5 Q826.0,680.5 881.0,680.5 Z" stroke="#d0d0d0" stroke-width="5.5" fill="none"/>
<path clip-path="url(#c17)" d="M892.7,676.8L991.1,762.4M881.0,690.2L979.5,775.8M869.4,703.6L967.9,789.2M857.8,716.9L956.3,802.5M846.2,730.3L944.7,815.9M834.6,743.6L933.1,829.2M823.0,757.0L921.4,842.6M811.4,770.4L909.8,855.9M799.8,783.7L898.2,869.3M807.9,775.2L893.5,676.8M821.3,786.9L906.9,688.4M834.7,798.5L920.3,700.0M848.0,810.1L933.6,711.6M861.4,821.7L947.0,723.2M874.7,833.3L960.3,734.8M888.1,844.9L973.7,746.5M901.5,856.5L987.0,758.1M914.8,868.1L1000.4,769.7" stroke="#55292a" stroke-width="2.8" fill="none"/>
<path d="M879.0,728.0 L931.0,728.0 Q946.0,728.0 946.0,743.0 L946.0,787.0 Q946.0,802.0 931.0,802.0 L879.0,802.0 Q864.0,802.0 864.0,787.0 L864.0,743.0 Q864.0,728.0 879.0,728.0 Z" stroke="#ff7878" stroke-width="6" fill="none" stroke-linejoin="round"/>
<path clip-path="url(#c18)" d="M997.2,676.8L1095.6,762.4M985.5,690.2L1084.0,775.8M973.9,703.6L1072.4,789.2M962.3,716.9L1060.8,802.5M950.7,730.3L1049.2,815.9M939.1,743.6L1037.6,829.2M927.5,757.0L1025.9,842.6M915.9,770.4L1014.3,855.9M904.3,783.7L1002.7,869.3M912.4,775.2L998.0,676.8M925.8,786.9L1011.4,688.4M939.2,798.5L1024.8,700.0M952.5,810.1L1038.1,711.6M965.9,821.7L1051.5,723.2M979.2,833.3L1064.8,734.8M992.6,844.9L1078.2,746.5M1006.0,856.5L1091.5,758.1M1019.3,868.1L1104.9,769.7" stroke="#55292a" stroke-width="2.8" fill="none"/>
<path d="M983.5,728.0 L1035.5,728.0 Q1050.5,728.0 1050.5,743.0 L1050.5,787.0 Q1050.5,802.0 1035.5,802.0 L983.5,802.0 Q968.5,802.0 968.5,787.0 L968.5,743.0 Q968.5,728.0 983.5,728.0 Z" stroke="#ff7878" stroke-width="6" fill="none" stroke-linejoin="round"/>
<path clip-path="url(#c19)" d="M1111.2,676.8L1209.6,762.4M1099.5,690.2L1198.0,775.8M1087.9,703.6L1186.4,789.2M1076.3,716.9L1174.8,802.5M1064.7,730.3L1163.2,815.9M1053.1,743.6L1151.6,829.2M1041.5,757.0L1139.9,842.6M1029.9,770.4L1128.3,855.9M1018.3,783.7L1116.7,869.3M1026.4,775.2L1112.0,676.8M1039.8,786.9L1125.4,688.4M1053.2,798.5L1138.8,700.0M1066.5,810.1L1152.1,711.6M1079.9,821.7L1165.5,723.2M1093.2,833.3L1178.8,734.8M1106.6,844.9L1192.2,746.5M1120.0,856.5L1205.5,758.1M1133.3,868.1L1218.9,769.7" stroke="#55292a" stroke-width="2.8" fill="none"/>
<path d="M1097.5,728.0 L1149.5,728.0 Q1164.5,728.0 1164.5,743.0 L1164.5,787.0 Q1164.5,802.0 1149.5,802.0 L1097.5,802.0 Q1082.5,802.0 1082.5,787.0 L1082.5,743.0 Q1082.5,728.0 1097.5,728.0 Z" stroke="#ff7878" stroke-width="6" fill="none" stroke-linejoin="round"/>
<path clip-path="url(#c20)" d="M1216.2,676.8L1314.6,762.4M1204.5,690.2L1303.0,775.8M1192.9,703.6L1291.4,789.2M1181.3,716.9L1279.8,802.5M1169.7,730.3L1268.2,815.9M1158.1,743.6L1256.6,829.2M1146.5,757.0L1244.9,842.6M1134.9,770.4L1233.3,855.9M1123.3,783.7L1221.7,869.3M1131.4,775.2L1217.0,676.8M1144.8,786.9L1230.4,688.4M1158.2,798.5L1243.8,700.0M1171.5,810.1L1257.1,711.6M1184.9,821.7L1270.5,723.2M1198.2,833.3L1283.8,734.8M1211.6,844.9L1297.2,746.5M1225.0,856.5L1310.5,758.1M1238.3,868.1L1323.9,769.7" stroke="#55292a" stroke-width="2.8" fill="none"/>
<path d="M1202.5,728.0 L1254.5,728.0 Q1269.5,728.0 1269.5,743.0 L1269.5,787.0 Q1269.5,802.0 1254.5,802.0 L1202.5,802.0 Q1187.5,802.0 1187.5,787.0 L1187.5,743.0 Q1187.5,728.0 1202.5,728.0 Z" stroke="#ff7878" stroke-width="6" fill="none" stroke-linejoin="round"/>
<path clip-path="url(#c21)" d="M892.7,776.3L991.1,861.9M881.0,789.7L979.5,875.3M869.4,803.1L967.9,888.7M857.8,816.4L956.3,902.0M846.2,829.8L944.7,915.4M834.6,843.1L933.1,928.7M823.0,856.5L921.4,942.1M811.4,869.9L909.8,955.4M799.8,883.2L898.2,968.8M807.9,874.7L893.5,776.3M821.3,886.4L906.9,787.9M834.7,898.0L920.3,799.5M848.0,909.6L933.6,811.1M861.4,921.2L947.0,822.7M874.7,932.8L960.3,834.3M888.1,944.4L973.7,846.0M901.5,956.0L987.0,857.6M914.8,967.6L1000.4,869.2" stroke="#55292a" stroke-width="2.8" fill="none"/>
<path d="M879.0,827.5 L931.0,827.5 Q946.0,827.5 946.0,842.5 L946.0,886.5 Q946.0,901.5 931.0,901.5 L879.0,901.5 Q864.0,901.5 864.0,886.5 L864.0,842.5 Q864.0,827.5 879.0,827.5 Z" stroke="#ff7878" stroke-width="6" fill="none" stroke-linejoin="round"/>
<path clip-path="url(#c22)" d="M997.2,776.3L1095.6,861.9M985.5,789.7L1084.0,875.3M973.9,803.1L1072.4,888.7M962.3,816.4L1060.8,902.0M950.7,829.8L1049.2,915.4M939.1,843.1L1037.6,928.7M927.5,856.5L1025.9,942.1M915.9,869.9L1014.3,955.4M904.3,883.2L1002.7,968.8M912.4,874.7L998.0,776.3M925.8,886.4L1011.4,787.9M939.2,898.0L1024.8,799.5M952.5,909.6L1038.1,811.1M965.9,921.2L1051.5,822.7M979.2,932.8L1064.8,834.3M992.6,944.4L1078.2,846.0M1006.0,956.0L1091.5,857.6M1019.3,967.6L1104.9,869.2" stroke="#55292a" stroke-width="2.8" fill="none"/>
<path d="M983.5,827.5 L1035.5,827.5 Q1050.5,827.5 1050.5,842.5 L1050.5,886.5 Q1050.5,901.5 1035.5,901.5 L983.5,901.5 Q968.5,901.5 968.5,886.5 L968.5,842.5 Q968.5,827.5 983.5,827.5 Z" stroke="#ff7878" stroke-width="6" fill="none" stroke-linejoin="round"/>
<path clip-path="url(#c23)" d="M1111.2,776.3L1209.6,861.9M1099.5,789.7L1198.0,875.3M1087.9,803.1L1186.4,888.7M1076.3,816.4L1174.8,902.0M1064.7,829.8L1163.2,915.4M1053.1,843.1L1151.6,928.7M1041.5,856.5L1139.9,942.1M1029.9,869.9L1128.3,955.4M1018.3,883.2L1116.7,968.8M1026.4,874.7L1112.0,776.3M1039.8,886.4L1125.4,787.9M1053.2,898.0L1138.8,799.5M1066.5,909.6L1152.1,811.1M1079.9,921.2L1165.5,822.7M1093.2,932.8L1178.8,834.3M1106.6,944.4L1192.2,846.0M1120.0,956.0L1205.5,857.6M1133.3,967.6L1218.9,869.2" stroke="#55292a" stroke-width="2.8" fill="none"/>
<path d="M1097.5,827.5 L1149.5,827.5 Q1164.5,827.5 1164.5,842.5 L1164.5,886.5 Q1164.5,901.5 1149.5,901.5 L1097.5,901.5 Q1082.5,901.5 1082.5,886.5 L1082.5,842.5 Q1082.5,827.5 1097.5,827.5 Z" stroke="#ff7878" stroke-width="6" fill="none" stroke-linejoin="round"/>
<path clip-path="url(#c24)" d="M1216.2,776.3L1314.6,861.9M1204.5,789.7L1303.0,875.3M1192.9,803.1L1291.4,888.7M1181.3,816.4L1279.8,902.0M1169.7,829.8L1268.2,915.4M1158.1,843.1L1256.6,928.7M1146.5,856.5L1244.9,942.1M1134.9,869.9L1233.3,955.4M1123.3,883.2L1221.7,968.8M1131.4,874.7L1217.0,776.3M1144.8,886.4L1230.4,787.9M1158.2,898.0L1243.8,799.5M1171.5,909.6L1257.1,811.1M1184.9,921.2L1270.5,822.7M1198.2,932.8L1283.8,834.3M1211.6,944.4L1297.2,846.0M1225.0,956.0L1310.5,857.6M1238.3,967.6L1323.9,869.2" stroke="#55292a" stroke-width="2.8" fill="none"/>
<path d="M1202.5,827.5 L1254.5,827.5 Q1269.5,827.5 1269.5,842.5 L1269.5,886.5 Q1269.5,901.5 1254.5,901.5 L1202.5,901.5 Q1187.5,901.5 1187.5,886.5 L1187.5,842.5 Q1187.5,827.5 1202.5,827.5 Z" stroke="#ff7878" stroke-width="6" fill="none" stroke-linejoin="round"/>
<path d="M647.8,1014.2 L658.9,1014.2 L587.9,877.5 L582.1,880.5 Z" fill="#d0d0d0" stroke="#d0d0d0" stroke-width="1.2" stroke-linejoin="round"/>
<path d="M700.4,1115.9 L712.4,1115.9 L771.1,1235 L764.9,1238.2 Z" fill="#d0d0d0" stroke="#d0d0d0" stroke-width="1.2" stroke-linejoin="round"/>
<circle cx="768" cy="1236.6" r="3.6" fill="#d0d0d0"/>
<path d="M592,937 L585,879" stroke="#d0d0d0" stroke-width="8.5" stroke-linecap="round" fill="none"/>
<path d="M585,879 L630,920" stroke="#d0d0d0" stroke-width="6.5" stroke-linecap="round" fill="none"/>
<text x="449.72" y="1054" font-size="35.6" fill="#d0d0d0" stroke="#d0d0d0" stroke-width="0.7" textLength="148.51" lengthAdjust="spacingAndGlyphs">SELECT</text>
<text x="612.61" y="1054" font-size="35.6" fill="#d0d0d0" stroke="#d0d0d0" stroke-width="0.7" textLength="17.97" lengthAdjust="spacingAndGlyphs">*</text>
<text x="645.75" y="1054" font-size="35.6" fill="#d0d0d0" stroke="#d0d0d0" stroke-width="0.7" textLength="107.49" lengthAdjust="spacingAndGlyphs">FROM</text>
<text x="767.22" y="1054" font-size="35.6" fill="#d0d0d0" stroke="#d0d0d0" stroke-width="0.7" textLength="279.38" lengthAdjust="spacingAndGlyphs">chat_messages;</text>
<text x="477.82" y="1099.4" font-size="35.6" fill="#d0d0d0" stroke="#d0d0d0" stroke-width="0.7" textLength="148.10" lengthAdjust="spacingAndGlyphs">SELECT</text>
<text x="641.31" y="1099.4" font-size="35.6" fill="#d0d0d0" stroke="#d0d0d0" stroke-width="0.7" textLength="17.97" lengthAdjust="spacingAndGlyphs">*</text>
<text x="673.96" y="1099.4" font-size="35.6" fill="#d0d0d0" stroke="#d0d0d0" stroke-width="0.7" textLength="107.38" lengthAdjust="spacingAndGlyphs">FROM</text>
<text x="793.96" y="1099.4" font-size="35.6" fill="#d0d0d0" stroke="#d0d0d0" stroke-width="0.7" textLength="225.14" lengthAdjust="spacingAndGlyphs">participants;</text>
<path d="M596.8,1246.7 L977.0,1246.7 Q1032.0,1246.7 1032.0,1301.7 L1032.0,1487.7 Q1032.0,1542.7 977.0,1542.7 L596.8,1542.7 Q541.8,1542.7 541.8,1487.7 L541.8,1301.7 Q541.8,1246.7 596.8,1246.7 Z" stroke="#d0d0d0" stroke-width="5.5" fill="none"/>
<text x="639.90" y="1407.3" font-size="44" fill="#d0d0d0" stroke="#d0d0d0" stroke-width="0.7" textLength="138.55" lengthAdjust="spacingAndGlyphs">HTTP</text>
<text x="794.20" y="1407.3" font-size="44" fill="#d0d0d0" stroke="#d0d0d0" stroke-width="0.7" textLength="139.54" lengthAdjust="spacingAndGlyphs">Server</text>
<path d="M776.5,1657 L777.8,1562 M780.4,1657 L783,1566" stroke="#d0d0d0" stroke-width="4.6" stroke-linecap="round" fill="none"/>
<path d="M777,1740 L774.3,1831" stroke="#d0d0d0" stroke-width="6" stroke-linecap="round" fill="none"/>
<path d="M762.5,1619.8 L778.5,1572 M801.2,1621.2 L783,1566" stroke="#d0d0d0" stroke-width="4.8" stroke-linecap="round" fill="none"/>
<text x="685.40" y="1710" font-size="46" fill="#d0d0d0" stroke="#d0d0d0" stroke-width="0.7" textLength="179.30" lengthAdjust="spacingAndGlyphs">Request</text>
<path d="M573.9,1846.3 L954.1,1846.3 Q1009.1,1846.3 1009.1,1901.3 L1009.1,2039.3 Q1009.1,2094.3 954.1,2094.3 L573.9,2094.3 Q518.9,2094.3 518.9,2039.3 L518.9,1901.3 Q518.9,1846.3 573.9,1846.3 Z" stroke="#d0d0d0" stroke-width="5.5" fill="none"/>
<text x="701.53" y="1981" font-size="43" fill="#d0d0d0" stroke="#d0d0d0" stroke-width="0.7" textLength="121.97" lengthAdjust="spacingAndGlyphs">Client</text>
</svg></body></html>
